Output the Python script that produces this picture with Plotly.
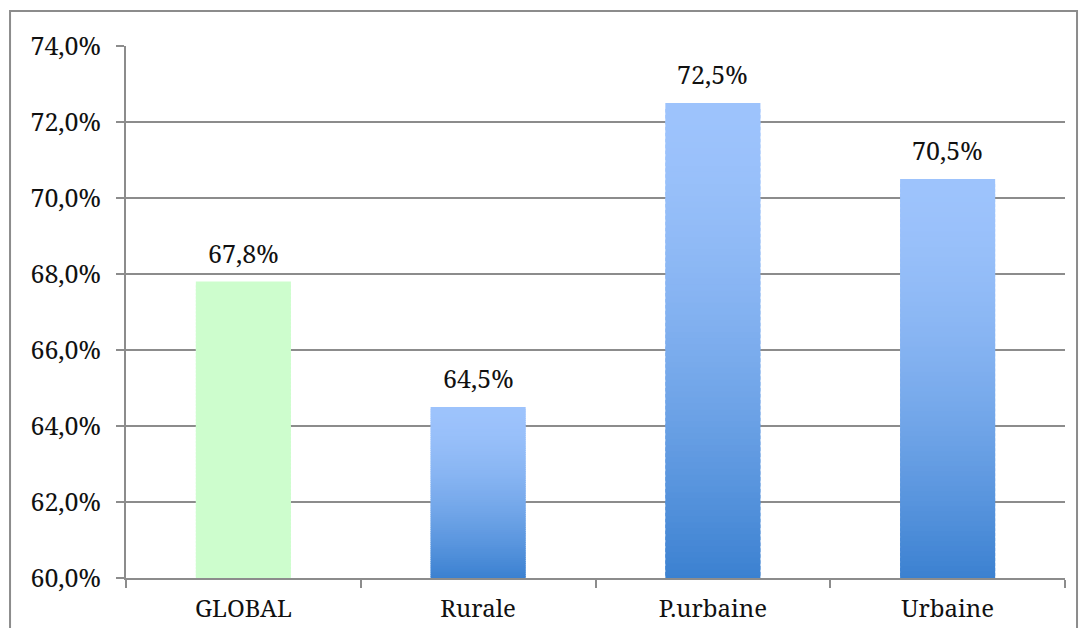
import plotly.graph_objects as go

categories = ["GLOBAL", "Rurale", "P.urbaine", "Urbaine"]
values = [0.678, 0.645, 0.725, 0.705]
label_texts = ["67,8%", "64,5%", "72,5%", "70,5%"]

BASE = 0.60
N_STEPS = 80
GREEN = ((205, 253, 205), (205, 253, 205))  # bottom, top
BLUE = ((58, 128, 208), (157, 195, 252))
GRID = "#8c8c8c"
FONT = "Noto Serif"


def mix(c0, c1, t):
    return "rgb(%d,%d,%d)" % tuple(round(a + (b - a) * t) for a, b in zip(c0, c1))


def ease(t):
    # blue fill stays light near the top and darkens toward the bottom
    return 1 - (1 - t) ** 1.6


fig = go.Figure()

# gradient bars: each bar is split into thin stacked slices,
# each slice reaching a bit down over the one below to hide seams
for i in range(N_STEPS):
    t = (i + 0.5) / N_STEPS
    bases, heights, colors = [], [], []
    for cat, v in zip(categories, values):
        span = v - BASE
        top = BASE + span * (i + 1) / N_STEPS
        bottom = max(BASE, BASE + span * (i - 0.6) / N_STEPS)
        bases.append(bottom)
        heights.append(top - bottom)
        pal = GREEN if cat == "GLOBAL" else BLUE
        colors.append(mix(pal[0], pal[1], ease(t)))
    fig.add_trace(
        go.Bar(
            x=categories,
            y=heights,
            base=bases,
            marker=dict(color=colors, line=dict(width=0)),
            hoverinfo="skip",
            showlegend=False,
        )
    )

for cat, v, txt in zip(categories, values, label_texts):
    fig.add_annotation(
        x=cat, y=v, text=txt, showarrow=False,
        yanchor="bottom", yshift=10,
        font=dict(family=FONT, size=25, color="#111"),
    )

# outer chart border
fig.add_shape(
    type="rect", xref="paper", yref="paper",
    x0=-0.1235, x1=1.0128, y0=-0.2, y1=1.0658,
    line=dict(color="#8c8c8c", width=2), fillcolor="rgba(0,0,0,0)",
    layer="below",
)

fig.update_layout(
    width=1072,
    height=620,
    barmode="overlay",
    bargap=0.595,
    separators=",.",
    paper_bgcolor="white",
    plot_bgcolor="white",
    margin=dict(l=118, r=15, t=38, b=50),
    font=dict(family=FONT, size=25, color="#111"),
    xaxis=dict(
        type="category",
        automargin=False,
        tickson="boundaries",
        ticks="outside",
        ticklen=8,
        tickwidth=2,
        tickcolor=GRID,
        showline=True,
        linecolor=GRID,
        linewidth=2,
        showgrid=False,
        ticklabelstandoff=8,
        tickfont=dict(family=FONT, size=24, color="#111"),
    ),
    yaxis=dict(
        range=[0.60, 0.74],
        automargin=False,
        dtick=0.02,
        tickformat=".1%",
        ticks="outside",
        ticklen=8,
        tickwidth=2,
        tickcolor=GRID,
        showline=True,
        linecolor=GRID,
        linewidth=2,
        showgrid=True,
        gridcolor=GRID,
        gridwidth=2,
        zeroline=False,
        ticklabelstandoff=10,
        tickfont=dict(family=FONT, size=25, color="#111"),
    ),
)

fig.write_html("out.html")
